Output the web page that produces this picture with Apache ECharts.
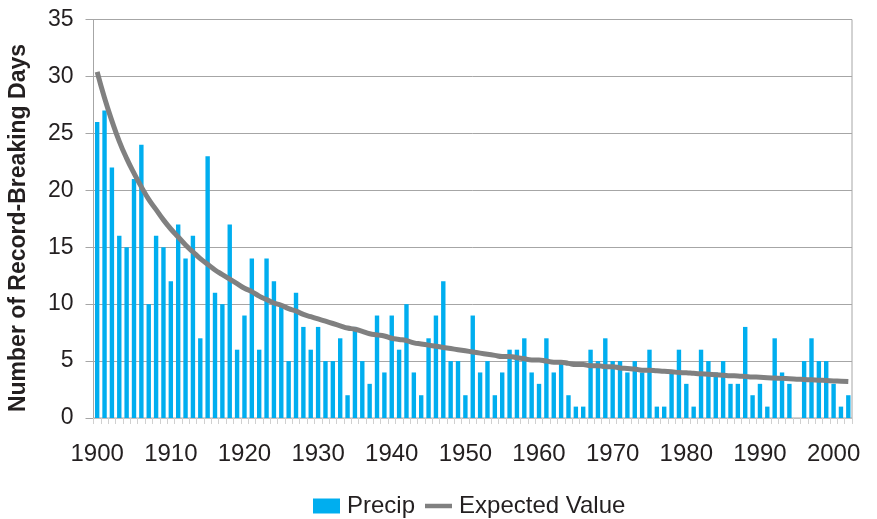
<!DOCTYPE html>
<html>
<head>
<meta charset="utf-8">
<script src="https://cdn.jsdelivr.net/npm/echarts@6/dist/echarts.min.js"></script>
<style>html,body{margin:0;padding:0;background:#fff;}#c{width:877px;height:519px;}</style>
</head>
<body>
<div id="c"></div>
<script>
const years = [];
for (let y = 1900; y <= 2002; y++) years.push(String(y));

const precip = [
  26, 27, 22, 16, 15, 21, 24, 10, 16, 15,
  12, 17, 14, 16, 7, 23, 11, 10, 17, 6,
  9, 14, 6, 14, 12, 10, 5, 11, 8, 6,
  8, 5, 5, 7, 2, 8, 5, 3, 9, 4,
  9, 6, 10, 4, 2, 7, 9, 12, 5, 5,
  2, 9, 4, 5, 2, 4, 6, 6, 7, 4,
  3, 7, 4, 5, 2, 1, 1, 6, 5, 7,
  5, 5, 4, 5, 4, 6, 1, 1, 4, 6,
  3, 1, 6, 5, 4, 5, 3, 3, 8, 2,
  3, 1, 7, 4, 3, 0, 5, 7, 5, 5,
  3, 1, 2
];

const expected = [
  30.4, 28.1, 26.1, 24.3, 22.8, 21.5, 20.3, 19.2, 18.3, 17.4,
  16.6, 15.9, 15.2, 14.6, 14.0, 13.5, 13.0, 12.6, 12.2, 11.8,
  11.4, 11.1, 10.7, 10.4, 10.1, 9.9, 9.6, 9.4, 9.1, 8.9,
  8.7, 8.5, 8.3, 8.1, 7.9, 7.8, 7.6, 7.4, 7.3, 7.2,
  7.0, 6.9, 6.8, 6.6, 6.5, 6.4, 6.3, 6.2, 6.1, 6.0,
  5.9, 5.8, 5.7, 5.6, 5.5, 5.4, 5.4, 5.3, 5.2, 5.1,
  5.1, 5.0, 4.9, 4.9, 4.8, 4.7, 4.7, 4.6, 4.6, 4.5,
  4.5, 4.4, 4.35, 4.3, 4.2, 4.2, 4.15, 4.1, 4.06, 4.0,
  3.97, 3.92, 3.88, 3.84, 3.8, 3.76, 3.72, 3.69, 3.65, 3.61,
  3.58, 3.54, 3.51, 3.48, 3.44, 3.41, 3.38, 3.35, 3.32, 3.29,
  3.26, 3.23, 3.2
];

const yTicks = { min: 0, max: 35, interval: 5 };
const seriesNames = ['Precip', 'Expected Value'];
const yTitle = 'Number of Record-Breaking Days';

const textColor = '#231f20';
const font = 'Liberation Sans, Arial, sans-serif';

const chart = echarts.init(document.getElementById('c'), null, { renderer: 'canvas' });
chart.setOption({
  animation: false,
  backgroundColor: '#ffffff',
  grid: {
    left: 93.5, right: 25, top: 19.5, bottom: 101,
    show: true, borderColor: '#a6a6a6', borderWidth: 1, backgroundColor: 'transparent'
  },
  legend: {
    left: 308, top: 489,
    itemWidth: 27, itemHeight: 15, itemGap: 10,
    textStyle: { fontFamily: font, fontSize: 24, color: textColor, padding: [0, 0, 0, 2] },
    data: [
      { name: seriesNames[0], icon: 'rect' },
      { name: seriesNames[1], icon: 'path://M0,0 L60,0 L60,10 L0,10 Z', itemStyle: { color: '#808080' } }
    ]
  },
  graphic: [{
    type: 'text',
    x: 19, y: 228,
    rotation: Math.PI / 2,
    style: {
      text: yTitle,
      fontFamily: font, fontSize: 23, fontWeight: 'bold', fill: textColor,
      align: 'center', verticalAlign: 'middle'
    }
  }],
  xAxis: {
    type: 'category',
    data: years,
    boundaryGap: true,
    axisLine: { show: true, lineStyle: { color: '#bfbfbf', width: 1 } },
    axisTick: { show: true, interval: 0, length: 6, lineStyle: { color: '#d0d0d0' } },
    axisLabel: {
      interval: function (i) { return i % 10 === 0; },
      fontFamily: font, fontSize: 24, color: textColor, margin: 24
    },
    splitLine: { show: false }
  },
  yAxis: {
    type: 'value',
    min: yTicks.min, max: yTicks.max, interval: yTicks.interval,
    axisLine: { show: true, lineStyle: { color: '#a6a6a6', width: 1 } },
    axisTick: { show: true, length: 8, lineStyle: { color: '#a6a6a6' } },
    axisLabel: { fontFamily: font, fontSize: 23, color: textColor, margin: 20 },
    splitLine: { show: true, lineStyle: { color: '#a6a6a6', width: 1 } }
  },
  series: [
    {
      name: seriesNames[0],
      type: 'bar',
      data: precip,
      barWidth: 4.4,
      itemStyle: { color: '#00aeef' }
    },
    {
      name: seriesNames[1],
      type: 'line',
      data: expected,
      symbol: 'none',
      smooth: true,
      lineStyle: { color: '#808080', width: 5 },
      itemStyle: { color: '#808080' },
      z: 5
    }
  ]
});
</script>
</body>
</html>
